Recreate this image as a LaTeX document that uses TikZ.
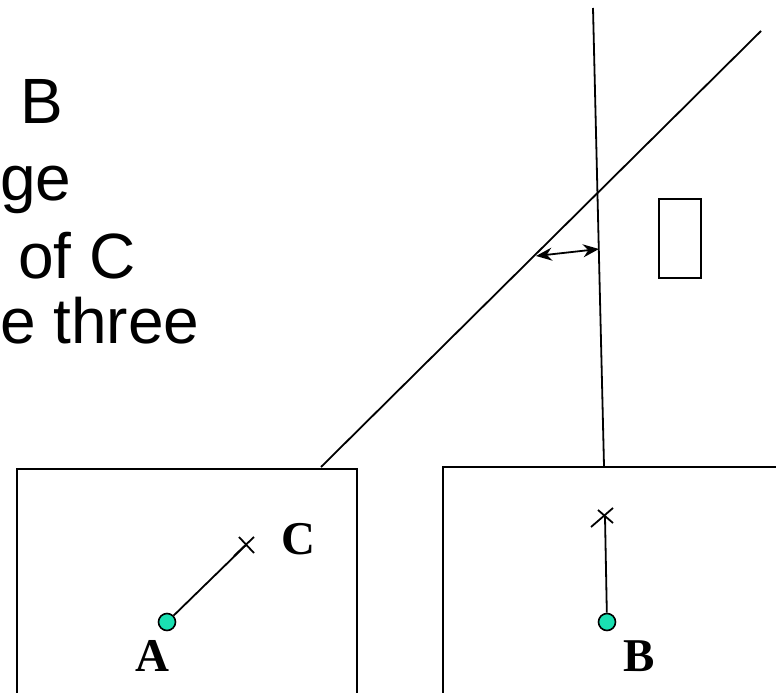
\documentclass[tikz,border=0pt]{standalone}
\usepackage{fontspec}
\setmainfont{Liberation Serif}
\newfontfamily\arialfont{Liberation Sans}
\usetikzlibrary{arrows.meta}
\definecolor{dotfill}{RGB}{26,224,178}
\begin{document}
\begin{tikzpicture}[x=1pt,y=-1pt,
  lineart/.style={line width=1.8pt},
  boxline/.style={draw, line width=2pt, inner sep=0pt, anchor=north west},
  bodytext/.style={anchor=base west, inner sep=0pt, font=\arialfont\fontsize{64}{76}\selectfont},
  ptlabel/.style={inner sep=0pt, font=\bfseries\fontsize{47}{50}\selectfont},
  dot/.style={circle, draw, line width=1.6pt, fill=dotfill, minimum size=17pt, inner sep=0pt},
  dbl/.style={line width=1.8pt, {Stealth[length=16pt,width=13pt]}-{Stealth[length=16pt,width=13pt]}},
]
\useasboundingbox (0,0) rectangle (776,693);
\clip (0,0) rectangle (776,693);

% text at top left
\node[bodytext] (t1) at (20,123) {B};
\node[bodytext] (t2) at (0,200) {ge};
\node[bodytext] (t3) at (18,278) {of C};
\node[bodytext] (t4) at (0,343) {e three};

% boxes
\node[boxline, minimum width=340pt, minimum height=260pt] (boxA) at (16,468) {};
\node[boxline, minimum width=360pt, minimum height=260pt] (boxB) at (442,466) {};
\node[boxline, line width=1.6pt, minimum width=42pt, minimum height=79pt] (rect) at (658,198) {};

% long lines
\coordinate (d1) at (321,467);
\coordinate (d2) at (761,31);
\draw[lineart] (d1) -- (d2);
\coordinate (v1) at (593,8);
\coordinate (v2) at (604,466);
\draw[lineart] (v1) -- (v2);

% angle arrow
\coordinate (aL) at (536,256);
\coordinate (aR) at (599,249);
\draw[dbl] (aL) -- (aR);

% point A and C
\coordinate (xC) at (246,545);
\node[dot] (ptA) at (167,622) {};
\draw[lineart] (ptA) -- (xC);
\draw[lineart] (xC) ++(-12,11) -- ++(20,-19);
\draw[lineart] (xC) ++(-7,-8) -- ++(15,16);
\node[ptlabel] (lC) at (298,539) {C};
\node[ptlabel] (lA) at (152,656) {A};

% point B
\coordinate (xB) at (605,517);
\node[dot] (ptB) at (607,622) {};
\draw[lineart] (ptB) -- (xB);
\draw[lineart] (xB) ++(-14,10) -- ++(22,-19);
\draw[lineart] (xB) ++(-7,-7) -- ++(15,13);
\node[ptlabel] (lB) at (639,656) {B};
\end{tikzpicture}
\end{document}
